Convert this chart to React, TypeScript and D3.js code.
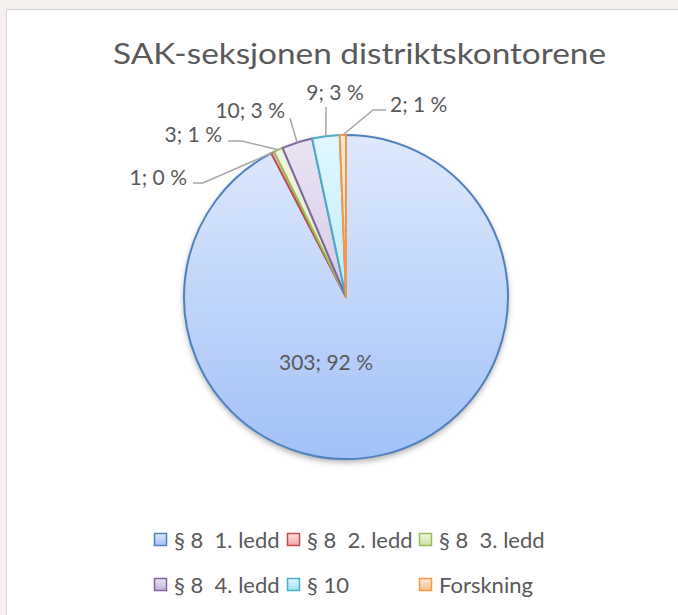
import * as d3 from "d3";

// chart values
const categories = ["§ 8  1. ledd", "§ 8  2. ledd", "§ 8  3. ledd", "§ 8  4. ledd", "§ 10", "Forskning"];
const counts = [303, 1, 3, 10, 9, 2];
const strokes = ["#4f81bd", "#c0504d", "#9bbb59", "#8064a2", "#4bacc6", "#f79646"];
const lightFills = ["#dfe9fc", "#fde2e1", "#f1f7e4", "#ebe5f3", "#e0f7fd", "#feebdc"];
const darkFills = ["#a2c1f7", "#f2a3a1", "#cbe2a0", "#c0b0dc", "#a0e2f3", "#f9bd8b"];

const width = 678;
const height = 615;
const cx = 346;
const cy = 297;
const radius = 162;
const font = "Lato, 'Open Sans', sans-serif";
const textColor = "#595959";

// label layout: text anchor point, leader start, optional elbow (index 0 is drawn inside)
const labelLayout = [
  { x: 326, y: 362, anchor: "middle", start: null, elbow: null },
  { x: 187, y: 177, anchor: "end", start: [193, 183], elbow: [203, 183] },
  { x: 222, y: 134, anchor: "end", start: [228, 141], elbow: [242, 141] },
  { x: 285, y: 110, anchor: "end", start: [290, 118], elbow: null },
  { x: 335, y: 92, anchor: "middle", start: [326, 107], elbow: null },
  { x: 390, y: 104, anchor: "start", start: [386, 110], elbow: [373, 110] },
];
const legendCols = [155, 288, 420];
const legendRows = [540, 585];

export default function App() {
  const total = d3.sum(counts);
  const pie = d3.pie<number>().sort(null).value((d) => d);
  const arcs = pie(counts);
  const arc = d3.arc<d3.PieArcDatum<number>>().innerRadius(0).outerRadius(radius);
  const edge = d3.arc<d3.PieArcDatum<number>>().innerRadius(radius).outerRadius(radius);
  const pct = (v: number) => Math.round((v / total) * 100);

  return (
    <svg
      width={width}
      height={height}
      viewBox={`0 0 ${width} ${height}`}
      style={{ position: "absolute", left: 0, top: 0, fontFamily: font }}
    >
      <defs>
        {strokes.map((_, i) => (
          <linearGradient key={i} id={`g${i}`} gradientUnits="userSpaceOnUse" x1={0} y1={-radius} x2={0} y2={radius}>
            <stop offset="0" stopColor={lightFills[i]} />
            <stop offset="1" stopColor={darkFills[i]} />
          </linearGradient>
        ))}
        {strokes.map((_, i) => (
          <linearGradient key={`l${i}`} id={`lg${i}`} x1={0} y1={0} x2={0} y2={1}>
            <stop offset="0" stopColor={lightFills[i]} />
            <stop offset="1" stopColor={darkFills[i]} />
          </linearGradient>
        ))}
        <filter id="shadow" x="-20%" y="-20%" width="140%" height="140%">
          <feDropShadow dx={0} dy={3} stdDeviation={3} floodColor="#000" floodOpacity={0.35} />
        </filter>
      </defs>

      <rect x={0} y={0} width={width} height={height} fill="#f5f0ed" />
      <rect x={6.5} y={9.5} width={width} height={height} fill="#fff" stroke="#d4d4d4" strokeWidth={1} />

      <text
        x={113}
        y={64}
        fontSize={29}
        fill={textColor}
        textLength={493}
        lengthAdjust="spacingAndGlyphs"
      >
        SAK-seksjonen distriktskontorene
      </text>

      <g transform={`translate(${cx},${cy})`}>
        <circle r={radius} fill="#fff" filter="url(#shadow)" />
        {arcs.map((a, i) => (
          <path
            key={i}
            d={arc(a) ?? ""}
            fill={`url(#g${i})`}
            stroke={strokes[i]}
            strokeWidth={2}
            strokeLinejoin="round"
          />
        ))}
      </g>

      {arcs.map((a, i) => {
        const L = labelLayout[i];
        if (!L.start) return null;
        const [ex, ey] = edge.centroid(a);
        const pts: [number, number][] = [L.start as [number, number]];
        if (L.elbow) pts.push(L.elbow as [number, number]);
        pts.push([cx + ex, cy + ey]);
        return <path key={i} d={d3.line()(pts) ?? ""} fill="none" stroke="#a6a6a6" strokeWidth={1.5} />;
      })}

      {arcs.map((a, i) => {
        const L = labelLayout[i];
        return (
          <text key={i} x={L.x} y={L.y} dy="0.36em" textAnchor={L.anchor as any} fontSize={21} fill={textColor}>
            {`${counts[i]}; ${pct(counts[i])} %`}
          </text>
        );
      })}

      {categories.map((c, i) => {
        const x = legendCols[i % 3];
        const y = legendRows[Math.floor(i / 3)];
        return (
          <g key={c}>
            <rect x={x - 0.5} y={y - 6.5} width={12} height={12} fill={`url(#lg${i})`} stroke={strokes[i]} strokeWidth={1.5} />
            <text x={x + 19} y={y} dy="0.36em" fontSize={22} fill={textColor} style={{ whiteSpace: "pre" }}>
              {c}
            </text>
          </g>
        );
      })}
    </svg>
  );
}
